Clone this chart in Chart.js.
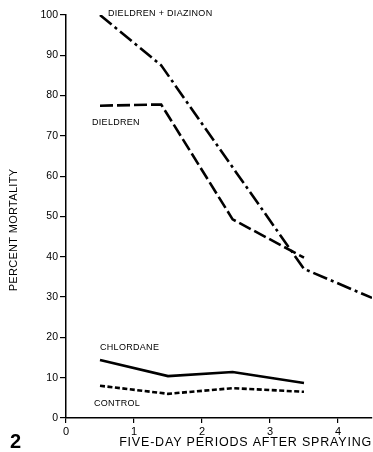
<!DOCTYPE html>
<html>
<head>
<meta charset="utf-8">
<style>
  html, body { margin: 0; padding: 0; background: #fff; }
  #wrap { width: 373px; height: 452px; position: relative; }
</style>
<script src="https://cdn.jsdelivr.net/npm/chart.js@4/dist/chart.umd.min.js"></script>
</head>
<body>
<div id="wrap"><canvas id="c" width="373" height="452"></canvas></div>
<script>
// Data
const xTicks = [0, 1, 2, 3, 4];
const yTicks = [0, 10, 20, 30, 40, 50, 60, 70, 80, 90, 100];

const diazinonX = [0.5, 1.4, 2.5, 3.5, 4.5];
const diazinonY = [100, 87.5, 61, 37, 29.8];

const dieldrenX = [0.5, 1.4, 2.45, 3.5];
const dieldrenY = [77.5, 77.8, 49.3, 39.8];

const chlordaneX = [0.5, 1.5, 2.45, 3.5];
const chlordaneY = [14.4, 10.4, 11.4, 8.7];

const controlX = [0.5, 1.5, 2.45, 3.5];
const controlY = [8.0, 6.0, 7.4, 6.5];

const seriesNames = ['DIELDREN + DIAZINON', 'DIELDREN', 'CHLORDANE', 'CONTROL'];
const figureNumber = '2';
const xTitle = 'FIVE-DAY PERIODS AFTER SPRAYING';
const yTitle = 'PERCENT MORTALITY';

function pts(xs, ys) { return xs.map((x, i) => ({ x: x, y: ys[i] })); }

const FONT = '"Liberation Sans", Arial, sans-serif';

const labelPlugin = {
  id: 'labels',
  afterDraw(chart) {
    const ctx = chart.ctx;
    const xs = chart.scales.x, ys = chart.scales.y;
    ctx.save();
    ctx.fillStyle = '#000';
    ctx.font = '9px ' + FONT;
    ctx.textBaseline = 'middle';
    ctx.textAlign = 'left';
    const anchors = [
      { name: seriesNames[0], x: diazinonX[0], y: diazinonY[0], dx: 8, dy: -1 },
      { name: seriesNames[1], x: dieldrenX[0], y: dieldrenY[0], dx: -8, dy: 17 },
      { name: seriesNames[2], x: chlordaneX[0], y: chlordaneY[0], dx: 0, dy: -12 },
      { name: seriesNames[3], x: controlX[0], y: controlY[0], dx: -6, dy: 18 }
    ];
    ctx.letterSpacing = '0.3px';
    anchors.forEach(a => {
      ctx.fillText(a.name, xs.getPixelForValue(a.x) + a.dx, ys.getPixelForValue(a.y) + a.dy);
    });
    // axis titles
    ctx.font = '12.5px ' + FONT;
    ctx.letterSpacing = '0.8px';
    ctx.textAlign = 'right';
    ctx.fillText(xTitle, chart.chartArea.right, 443);
    ctx.font = '11px ' + FONT;
    ctx.letterSpacing = '0.3px';
    ctx.save();
    ctx.translate(14, 230);
    ctx.rotate(-Math.PI / 2);
    ctx.textAlign = 'center';
    ctx.fillText(yTitle, 0, 0);
    ctx.restore();
    // figure number
    ctx.letterSpacing = '0px';
    ctx.font = 'bold 20px ' + FONT;
    ctx.textAlign = 'left';
    ctx.fillText(figureNumber, 10, 442);
    ctx.restore();
  }
};

const common = { fill: false, tension: 0, pointRadius: 0, borderColor: '#000', borderWidth: 2.6, borderCapStyle: 'butt' };

new Chart(document.getElementById('c'), {
  type: 'line',
  data: {
    datasets: [
      Object.assign({ label: seriesNames[0], data: pts(diazinonX, diazinonY), borderDash: [15, 4, 3, 4] }, common),
      Object.assign({ label: seriesNames[1], data: pts(dieldrenX, dieldrenY), borderDash: [13, 4] }, common),
      Object.assign({ label: seriesNames[2], data: pts(chlordaneX, chlordaneY) }, common),
      Object.assign({ label: seriesNames[3], data: pts(controlX, controlY), borderDash: [5, 2.5] }, common)
    ]
  },
  options: {
    responsive: false,
    animation: false,
    layout: { padding: { top: 15, right: 1, left: 0, bottom: 0 } },
    plugins: { legend: { display: false }, tooltip: { enabled: false }, title: { display: false } },
    scales: {
      x: {
        type: 'linear', min: 0, max: 4.5,
        afterBuildTicks(s) { s.ticks = xTicks.map(v => ({ value: v })); },
        afterFit(s) { s.height = 34; },
        border: { display: true, color: '#000', width: 1.5 },
        grid: { display: true, drawOnChartArea: false, drawTicks: true, tickLength: 5, color: '#000', lineWidth: 1.2 },
        ticks: { color: '#000', font: { family: FONT, size: 11 }, padding: 2, maxRotation: 0 }
      },
      y: {
        type: 'linear', min: 0, max: 100,
        afterBuildTicks(s) { s.ticks = yTicks.map(v => ({ value: v })); },
        afterFit(s) { s.width = 66; },
        border: { display: true, color: '#000', width: 1.5 },
        grid: { display: true, drawOnChartArea: false, drawTicks: true, tickLength: 6, color: '#000', lineWidth: 1.2 },
        ticks: { color: '#000', font: { family: FONT, size: 10.5 }, padding: 2 }
      }
    }
  },
  plugins: [labelPlugin]
});
</script>
</body>
</html>
